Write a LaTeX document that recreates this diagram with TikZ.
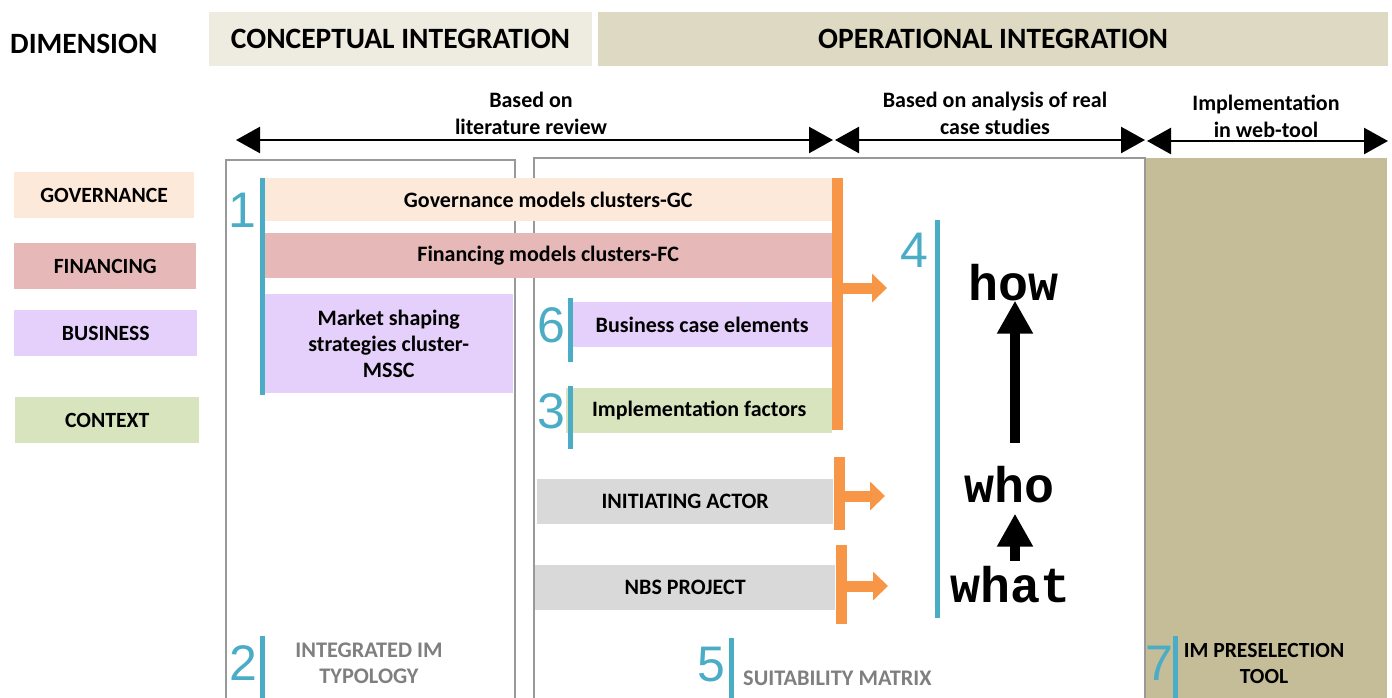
\documentclass[tikz,border=0pt]{standalone}
\usepackage{fontspec}
\setmainfont{Carlito}
\newfontfamily\digitfont{Liberation Sans}
\newfontfamily\codefont{Liberation Mono}
\usetikzlibrary{arrows.meta}
\definecolor{hdrL}{HTML}{EEECE1}
\definecolor{hdrR}{HTML}{DDD9C3}
\definecolor{tanbg}{HTML}{C4BD97}
\definecolor{gov}{HTML}{FDE9D9}
\definecolor{fin}{HTML}{E6B9B8}
\definecolor{bus}{HTML}{E4D0FA}
\definecolor{ctx}{HTML}{D7E4BD}
\definecolor{grayfill}{HTML}{D9D9D9}
\definecolor{numblue}{HTML}{4BACC6}
\definecolor{orng}{HTML}{F79646}
\definecolor{graytxt}{HTML}{7F7F7F}
\definecolor{boxline}{HTML}{999999}
\tikzset{
  hdr/.style={rectangle, inner sep=0pt, font=\fontsize{29.5}{32}\selectfont\bfseries},
  lbl/.style={inner sep=0pt, align=center, font=\fontsize{22}{27}\selectfont\bfseries},
  barbox/.style={rectangle, inner sep=0pt, anchor=north west, minimum height=45pt, align=center, font=\fontsize{22}{26}\selectfont\bfseries},
  legendbox/.style={rectangle, inner sep=0pt, anchor=north west, minimum height=46pt, font=\fontsize{21.7}{25}\selectfont\bfseries},
  digit/.style={inner sep=0pt, text=numblue, font=\digitfont\fontsize{50}{50}\selectfont},
  bluebar/.style={draw=numblue, line width=5pt},
  orangebar/.style={draw=orng, line width=11pt},
  orarrow/.style={draw=orng, line width=11pt, -{Triangle[length=15pt,width=28pt]}},
  dbl/.style={line width=2.5pt, {Triangle[length=24pt,width=26pt]}-{Triangle[length=24pt,width=26pt]}},
  blackup/.style={line width=10pt, -{Triangle[length=33pt,width=34pt]}},
  code/.style={inner sep=0pt, anchor=base, font=\codefont\bfseries\fontsize{50}{50}\selectfont},
  graylbl/.style={inner sep=0pt, align=center, text=graytxt, font=\fontsize{22.3}{26}\selectfont\bfseries},
  outline/.style={draw=boxline, line width=1.8pt}
}
\begin{document}
\begin{tikzpicture}[x=1pt,y=-1pt]
\useasboundingbox (0,0) rectangle (1392,697);
\clip (0,0) rectangle (1392,697);

% header
\node[hdr, anchor=west] (dim) at (10,44) {DIMENSION};
\node[hdr, fill=hdrL, minimum width=383pt, minimum height=54pt] (ci) at (400.5,39) {CONCEPTUAL INTEGRATION};
\node[hdr, fill=hdrR, minimum width=790pt, minimum height=54pt] (oi) at (993,39) {OPERATIONAL INTEGRATION};

% phase labels and arrows
\node[lbl] (t1) at (531,113) {Based on\\literature review};
\node[lbl] (t2) at (995,113) {Based on analysis of real\\case studies};
\node[lbl] (t3) at (1266,116) {Implementation\\in web-tool};
\coordinate (p1) at (236,140); \coordinate (p2) at (833,140);
\coordinate (p3) at (835,140); \coordinate (p4) at (1145,140);
\coordinate (p5) at (1147,141); \coordinate (p6) at (1388,141);
\draw[dbl] (p1) -- (p2);
\draw[dbl] (p3) -- (p4);
\draw[dbl] (p5) -- (p6);

% background areas
\fill[tanbg] (1145,158) rectangle (1387,700);
\draw[outline] (226,700) -- (226,160) -- (515,160) -- (515,700);
\draw[outline] (534,700) -- (534,158) -- (1145,158) -- (1145,700);

% legend
\node[legendbox, fill=gov, minimum width=180pt] (lg) at (14,172) {GOVERNANCE};
\node[legendbox, fill=fin, minimum width=182pt] (lf) at (14,243) {FINANCING};
\node[legendbox, fill=bus, minimum width=183pt] (lb) at (14,310) {BUSINESS};
\node[legendbox, fill=ctx, minimum width=184pt] (lc) at (15,397) {CONTEXT};

% bars
\node[barbox, fill=gov, minimum width=568pt, minimum height=43pt] (gc) at (264,178) {Governance models clusters-GC};
\node[barbox, fill=fin, minimum width=568pt] (fc) at (264,233) {Financing models clusters-FC};
\node[barbox, fill=bus, minimum width=249pt, minimum height=99pt] (ms) at (264,294) {Market shaping\\strategies cluster-\\MSSC};
\node[barbox, fill=bus, minimum width=260pt] (bce) at (572,302) {Business case elements};
\node[barbox, fill=ctx, minimum width=266pt] (imf) at (566,388) {Implementation factors};
\node[barbox, fill=grayfill, minimum width=296pt] (ia) at (537,479) {INITIATING ACTOR};
\node[barbox, fill=grayfill, minimum width=300pt] (nbs) at (535,565) {NBS PROJECT};

% numbers and blue markers
\node[digit] (n1) at (242,210) {1};
\draw[bluebar] (262,178) -- (262,395);
\node[digit] (n6) at (551,325) {6};
\draw[bluebar] (570,298) -- (570,362);
\node[digit] (n3) at (551,411) {3};
\draw[bluebar] (570,386) -- (570,449);
\node[digit] (n4) at (914,250) {4};
\draw[bluebar] (937,220) -- (937,618);

% orange connectors
\coordinate (o1t) at (837,178); \coordinate (o1b) at (837,430);
\draw[orangebar] (o1t) -- (o1b);
\coordinate (o1s) at (842,288); \coordinate (o1e) at (887,288);
\draw[orarrow] (o1s) -- (o1e);
\coordinate (o2t) at (839,457); \coordinate (o2b) at (839,530);
\draw[orangebar] (o2t) -- (o2b);
\coordinate (o2s) at (844,496); \coordinate (o2e) at (885,496);
\draw[orarrow] (o2s) -- (o2e);
\coordinate (o3t) at (841,545); \coordinate (o3b) at (841,624);
\draw[orangebar] (o3t) -- (o3b);
\coordinate (o3s) at (846,586); \coordinate (o3e) at (888,586);
\draw[orarrow] (o3s) -- (o3e);

% how / who / what
\node[code] (how) at (1013,300) {how};
\node[code] (who) at (1009,502) {who};
\node[code] (what) at (1010,602) {what};
\coordinate (ax) at (1015,0);
\coordinate (a1s) at (ax |- who.north); \coordinate (a1e) at (ax |- how.south);
\draw[blackup] ([yshift=23pt]a1s) -- (a1e);
\coordinate (a2s) at (ax |- what.north); \coordinate (a2e) at (ax |- who.south);
\draw[blackup] ([yshift=5pt]a2s) -- ([yshift=-11pt]a2e);

% bottom labels
\node[digit] (n2) at (243,663) {2};
\draw[bluebar] (262,636) -- (262,700);
\node[graylbl] (typ) at (369,663) {INTEGRATED IM\\TYPOLOGY};
\node[digit] (n5) at (711,665) {5};
\draw[bluebar] (731,638) -- (731,700);
\node[graylbl, anchor=west] (sm) at (743,678) {SUITABILITY MATRIX};
\node[digit] (n7) at (1159,663) {7};
\draw[bluebar] (1175,636) -- (1175,700);
\node[lbl, font=\fontsize{21.6}{26}\selectfont\bfseries] (tool) at (1264,663) {IM PRESELECTION\\TOOL};
\end{tikzpicture}
\end{document}
